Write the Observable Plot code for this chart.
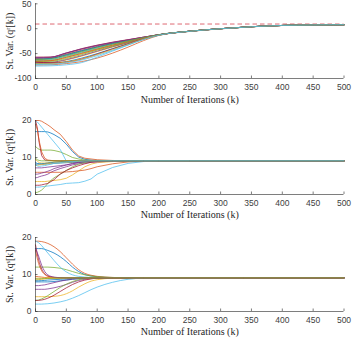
<!DOCTYPE html>
<html><head><meta charset="utf-8">
<script src="https://cdn.jsdelivr.net/npm/d3@7"></script>
<script src="https://cdn.jsdelivr.net/npm/@observablehq/plot@0.6"></script>
<style>
body{margin:0;background:#fff;}
#fig{position:relative;width:353px;height:338px;}
#fig svg{position:absolute;left:0;}
</style></head><body><div id="fig"></div>
<script>
const colors = ["#0072BD","#D95319","#EDB120","#7E2F8E","#77AC30","#4DBEEE","#A2142F"];
const xTicks = [0,50,100,150,200,250,300,350,400,450,500];
const yTicks1 = [-100,-50,0,50];
const yTicks23 = [0,10,20];
const xLabel = "Number of Iterations (k)";
const yLabel1 = "St. Var. (qʳ[k])";
const yLabel2 = "St. Var. (qˢ[k])";
const yLabel3 = "St. Var. (qˢ[k])";
const refLevel1 = 9.4;

// Panel 1 (sample iterations and series values)
const k1 = [0,25,50,75,100,125,150,175,200,250,300,350,400,450,500];
const panel1Series = [
  [-62,-60,-53,-45,-37,-30,-24,-18,-12,-5,0,4,6.5,7.5,8],
  [-73,-72.5,-70,-66,-59,-49,-37,-24,-13.5,-5.5,-0.3,3.8,6.4,7.4,8],
  [-66,-64.5,-58,-50,-42,-34,-26.5,-19,-12.5,-5,0,4,6.5,7.5,8],
  [-59,-57.5,-49,-41,-34,-28,-22.5,-17,-12,-5,0,4,6.5,7.5,8],
  [-64,-63,-56,-48,-40,-32.5,-25.5,-18.5,-12.2,-5,0,4,6.5,7.5,8],
  [-75,-74.5,-72.5,-68,-57,-45,-33,-21.5,-13,-5.3,-0.2,3.9,6.5,7.5,8],
  [-57,-57,-49,-40,-33,-27,-22,-17,-12,-5,0,4,6.5,7.5,8],
  [-70,-69.5,-66,-59,-50,-40,-30,-20.5,-12.8,-5.2,0,4,6.5,7.5,8],
  [-60,-58.5,-51,-43,-35.5,-29,-23.5,-17.5,-12,-5,0,4,6.5,7.5,8],
  [-69,-68,-63,-55,-46,-37,-28.5,-19.5,-12.6,-5.1,0,4,6.5,7.5,8],
  [-68,-67.5,-62,-54,-45,-36,-28,-19.5,-12.5,-5.1,0,4,6.5,7.5,8],
  [-66,-65.5,-60,-52,-43,-35,-27,-19,-12.3,-5,0,4,6.5,7.5,8],
  [-63,-62,-55,-47,-39,-31,-25,-18.5,-12.2,-5,0,4,6.5,7.5,8],
  [-67,-68.5,-67,-61,-51,-40.5,-30.5,-20.5,-12.7,-5.2,0,4,6.5,7.5,8],
  [-61,-59.5,-52,-44,-36.5,-29.5,-24,-18,-12,-5,0,4,6.5,7.5,8],
  [-65,-64,-57.5,-49.5,-41,-33,-26,-18.8,-12.2,-5,0,4,6.5,7.5,8],
  [-71,-70.5,-67,-61,-52,-42,-31.5,-21,-13,-5.3,-0.1,3.9,6.5,7.5,8],
  [-58,-57,-48.5,-40.5,-33.5,-27.5,-22.5,-17,-12,-5,0,4,6.5,7.5,8],
  [-62,-61,-54,-46,-38,-31,-24.5,-18,-12,-5,0,4,6.5,7.5,8],
  [-72,-71.5,-68.5,-63,-54,-43.5,-32.5,-21.5,-13,-5.3,-0.1,3.9,6.5,7.5,8]
];

// Panel 2
const k2 = [0,3,6,10,15,20,25,30,40,50,60,70,80,90,100,125,150,175,200,250,500];
const panel2Series = [
  [17,17,17,17,17,16.9,16.6,16.2,15.2,13.6,11.6,10.1,9.5,9.3,9.2,9.15,9.1,9.1,9.1,9.1,9.1],
  [20,20,20,19.8,19.3,18.8,18.2,17.5,16.3,14.3,12,10.4,9.8,9.6,9.4,9.2,9.1,9.1,9.1,9.1,9.1],
  [3.5,3.5,3.5,3.5,3.5,3.6,3.7,3.8,4,4.4,5.3,6.4,7.5,8.2,8.6,8.9,9.05,9.1,9.1,9.1,9.1],
  [4.5,4.6,4.8,5,5.2,5.5,6,6.4,7,7.5,8,8.3,8.5,8.7,8.8,9,9.1,9.1,9.1,9.1,9.1],
  [13,12.5,12.2,12,12,12,12,11.9,11.5,10.8,10,9.6,9.3,9.2,9.15,9.1,9.1,9.1,9.1,9.1,9.1],
  [20,19.6,19,18.2,17.2,16.2,15.2,14.2,12.2,9,8.6,8.7,8.8,8.9,9,9.05,9.1,9.1,9.1,9.1,9.1],
  [20,18,14,10.5,9.3,9.2,9.2,9.15,9.1,9.1,9.1,9.1,9.1,9.1,9.1,9.1,9.1,9.1,9.1,9.1,9.1],
  [8.2,8.2,8.2,8.2,8.2,8.3,8.3,8.4,8.5,8.6,8.7,8.8,8.9,8.95,9,9.05,9.1,9.1,9.1,9.1,9.1],
  [6,6,6,6,6,6,6,6,6,6.1,6.2,6.4,6.6,7,7.5,8.3,8.8,9,9.1,9.1,9.1],
  [9.5,9,8.6,8.5,8.5,8.6,8.7,8.8,8.9,9,9.05,9.1,9.1,9.1,9.1,9.1,9.1,9.1,9.1,9.1,9.1],
  [7.2,7.2,7.2,7.2,7.3,7.4,7.5,7.6,7.8,8,8.3,8.6,8.8,8.9,9,9.05,9.1,9.1,9.1,9.1,9.1],
  [0.5,0.6,0.8,1.2,2,3,3.8,4.5,5.5,6.5,7.5,8.2,8.7,8.9,9,9.1,9.1,9.1,9.1,9.1,9.1],
  [2,2,2,2.1,2.2,2.3,2.4,2.5,2.7,3,3.1,3.2,3.6,4.2,5.5,7.3,8.4,8.9,9.05,9.1,9.1],
  [2.5,2.5,2.5,2.6,2.8,3,3.5,4,5.5,6.5,7.2,7.8,8.3,8.7,8.9,9.05,9.1,9.1,9.1,9.1,9.1],
  [8.6,8.4,8.3,8.3,8.4,8.5,8.6,8.7,8.8,8.9,9,9.05,9.1,9.1,9.1,9.1,9.1,9.1,9.1,9.1,9.1],
  [19,17.5,14.5,11.5,9.8,9.3,9.2,9.15,9.1,9.1,9.1,9.1,9.1,9.1,9.1,9.1,9.1,9.1,9.1,9.1,9.1],
  [7.8,7.9,8,8.1,8.2,8.3,8.4,8.5,8.6,8.7,8.8,8.9,9,9.05,9.1,9.1,9.1,9.1,9.1,9.1,9.1],
  [5.5,5.5,5.6,5.8,6,6.3,6.6,7,7.5,8,8.4,8.7,8.9,9,9.05,9.1,9.1,9.1,9.1,9.1,9.1],
  [9.8,9.4,9.2,9.1,9.1,9.1,9.1,9.1,9.1,9.1,9.1,9.1,9.1,9.1,9.1,9.1,9.1,9.1,9.1,9.1,9.1],
  [8,7.7,7.6,7.7,7.8,8,8.2,8.4,8.6,8.8,8.9,9,9.05,9.1,9.1,9.1,9.1,9.1,9.1,9.1,9.1]
];

// Panel 3
const k3 = [0,5,10,15,20,30,40,50,60,70,80,90,100,125,150,175,500];
const panel3Series = [
  [17,17,17,16.8,16.5,15.8,14.8,13.5,12,10.8,10,9.6,9.4,9.15,9.1,9.1,9.1],
  [19,19,18.9,18.7,18.4,17.5,16.2,14.5,12.8,11.3,10.3,9.8,9.5,9.2,9.1,9.1,9.1],
  [4,4,4,4,4,4.1,4.3,4.8,5.6,6.6,7.5,8.2,8.6,9,9.1,9.1,9.1],
  [6,6,6,6,6.1,6.4,6.8,7.3,7.9,8.4,8.7,8.9,9,9.1,9.1,9.1,9.1],
  [12,12,12,12,12,11.9,11.7,11.3,10.8,10.3,9.9,9.6,9.4,9.2,9.1,9.1,9.1],
  [19,18.6,17.8,16.8,15.8,13.8,12,10.7,9.9,9.5,9.3,9.2,9.15,9.1,9.1,9.1,9.1],
  [18,14,11.5,10.2,9.6,9.2,9.1,9.1,9.1,9.1,9.1,9.1,9.1,9.1,9.1,9.1,9.1],
  [8,8,8,8,8,8.1,8.3,8.5,8.7,8.85,8.95,9,9.05,9.1,9.1,9.1,9.1],
  [16.5,13,11,10,9.5,9.2,9.1,9.1,9.1,9.1,9.1,9.1,9.1,9.1,9.1,9.1,9.1],
  [8.5,8.6,8.7,8.8,8.9,9,9.05,9.1,9.1,9.1,9.1,9.1,9.1,9.1,9.1,9.1,9.1],
  [7,7,7.1,7.2,7.4,7.8,8.2,8.5,8.75,8.9,9,9.05,9.1,9.1,9.1,9.1,9.1],
  [3,3.1,3.4,3.8,4.3,5.4,6.5,7.4,8.1,8.6,8.9,9,9.05,9.1,9.1,9.1,9.1],
  [2,2,2,2.05,2.1,2.3,2.6,3,3.6,4.3,5.1,5.9,6.6,7.9,8.7,9,9.1],
  [3,3,3.1,3.3,3.6,4.4,5.4,6.4,7.3,8,8.5,8.8,9,9.1,9.1,9.1,9.1],
  [8.3,8.3,8.35,8.4,8.5,8.6,8.7,8.8,8.9,9,9.05,9.1,9.1,9.1,9.1,9.1,9.1],
  [9.5,9.4,9.3,9.2,9.15,9.1,9.1,9.1,9.1,9.1,9.1,9.1,9.1,9.1,9.1,9.1,9.1],
  [9,9,9,9.05,9.1,9.1,9.1,9.1,9.1,9.1,9.1,9.1,9.1,9.1,9.1,9.1,9.1],
  [17,15,12.5,10.8,9.9,9.3,9.15,9.1,9.1,9.1,9.1,9.1,9.1,9.1,9.1,9.1,9.1],
  [8.8,8.8,8.85,8.9,8.95,9,9.05,9.1,9.1,9.1,9.1,9.1,9.1,9.1,9.1,9.1,9.1]
];

const fig = document.getElementById("fig");
const axisColor = "#262626";
const serif = "'Liberation Serif', 'Times New Roman', serif";

function rowsOf(K, series) {
  const rows = [];
  series.forEach((vals, i) => vals.forEach((v, j) => rows.push({k: K[j], v, s: i, c: colors[i % colors.length]})));
  return rows;
}

function makePanel(o) {
  const rows = rowsOf(o.K, o.series);
  const marks = [
    Plot.axisX({ticks: xTicks, tickSize: 0, tickPadding: 5, label: null, tickFormat: d => String(d)}),
    Plot.axisX({ticks: xTicks, tickSize: 2.5, fill: "none", dy: -2.5, strokeWidth: 0.6, stroke: axisColor}),
    Plot.axisY({ticks: o.yTicks, tickSize: 0, tickPadding: 4, label: null, tickFormat: d => String(d)}),
    Plot.axisY({ticks: o.yTicks, tickSize: 2.5, fill: "none", dx: 2.5, strokeWidth: 0.6, stroke: axisColor})
  ];
  if (o.ref != null) marks.push(Plot.ruleY([o.ref], {stroke: "#d6434f", strokeDasharray: "4.5,3", strokeWidth: 0.8}));
  marks.push(
    Plot.line(rows, {x: "k", y: "v", z: "s", stroke: "c", strokeWidth: 0.75, curve: o.curve}),
    Plot.ruleX([0], {stroke: axisColor, strokeWidth: 0.6}),
    Plot.ruleY([o.yDomain[0]], {stroke: axisColor, strokeWidth: 0.6}),
    Plot.text([xLabel], {text: d => d, frameAnchor: "bottom", textAnchor: "middle", lineAnchor: "middle", dy: o.xLabelDy, fontFamily: serif, fontSize: 10, fill: axisColor}),
    Plot.text([o.yLabel], {text: d => d, frameAnchor: "left", textAnchor: "middle", lineAnchor: "middle", rotate: -90, dx: -25.5, fontFamily: serif, fontSize: 10, fill: axisColor})
  );
  const svg = Plot.plot({
    width: 353, height: o.height,
    marginLeft: 35, marginRight: 9.5, marginTop: o.mt, marginBottom: o.mb,
    x: {domain: [0, 500]},
    y: {domain: o.yDomain},
    color: {type: "identity"},
    style: {fontFamily: "'Liberation Sans', Arial, sans-serif", fontSize: "8.5px", color: "#404040", background: "transparent", overflow: "visible"},
    marks
  });
  svg.style.top = o.top + "px";
  fig.appendChild(svg);
}

makePanel({K: k1, series: panel1Series, yDomain: [-100, 50], yTicks: yTicks1, yLabel: yLabel1, ref: refLevel1, curve: "monotone-x", top: 0, height: 106, mt: 3.3, mb: 28, xLabelDy: 21});
makePanel({K: k2, series: panel2Series, yDomain: [0, 20], yTicks: yTicks23, yLabel: yLabel2, ref: null, curve: "linear", top: 115, height: 104, mt: 5, mb: 25, xLabelDy: 20});
makePanel({K: k3, series: panel3Series, yDomain: [0, 20], yTicks: yTicks23, yLabel: yLabel3, ref: null, curve: "monotone-x", top: 232, height: 104, mt: 5, mb: 25, xLabelDy: 20});
</script></body></html>
